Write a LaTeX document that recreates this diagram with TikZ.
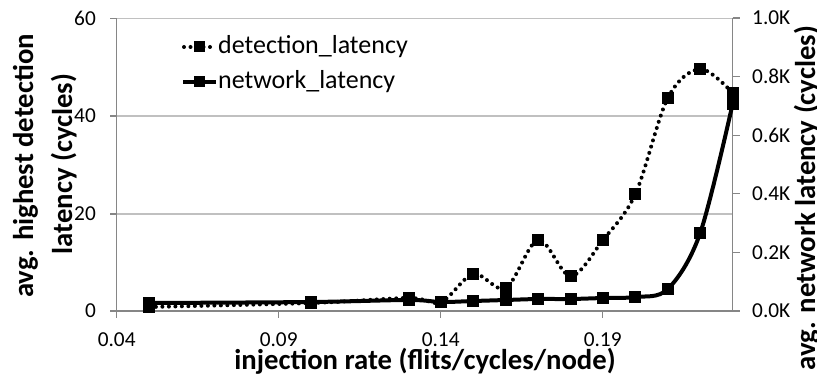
\documentclass[tikz,border=0pt]{standalone}
\usepackage{fontspec}
\setmainfont{Carlito}
\definecolor{gridgray}{HTML}{C0C0C0}
\definecolor{axisgray}{HTML}{868686}
\begin{document}
\begin{tikzpicture}[x=1pt,y=-1pt,
  gridline/.style={draw=gridgray, line width=1.2pt},
  axisline/.style={draw=axisgray, line width=1.2pt},
  detline/.style={line width=4pt, dash pattern=on 0pt off 6.5pt, line cap=round},
  netline/.style={line width=4pt},
  ticklab/.style={font=\fontsize{21.3}{23}\selectfont, inner sep=0pt},
  leglab/.style={font=\fontsize{26}{28}\selectfont, inner sep=0pt, anchor=west},
  axtitle/.style={font=\bfseries\fontsize{28.7}{34}\selectfont, inner sep=0pt, anchor=base},
]
\useasboundingbox (0,0) rectangle (817,379);

% horizontal gridlines (20, 40, 60)
\foreach \yy in {214,116,18.5}
  \draw[gridline] (110,\yy) -- (732.6,\yy);

% axes
\draw[axisline] (116.7,18.5) -- (116.7,311);
\draw[axisline] (110,311) -- (732.6,311);
\draw[axisline] (732.6,18.5) -- (732.6,311);
% left ticks
\foreach \yy in {311,214,116,18.5}
  \draw[axisline] (110,\yy) -- (116.7,\yy);
% right ticks
\foreach \yy in {311,252.4,193.8,135.2,76.6,18}
  \draw[axisline] (732.6,\yy) -- (740,\yy);
% bottom ticks
\foreach \xx in {116.7,278.7,440.7,602.7}
  \draw[axisline] (\xx,311) -- (\xx,318);

% left tick labels
\node[ticklab, anchor=east] (l0)  at (96,311)  {0};
\node[ticklab, anchor=east] (l20) at (96,214)  {20};
\node[ticklab, anchor=east] (l40) at (96,116)  {40};
\node[ticklab, anchor=east] (l60) at (96,18.5) {60};

% right tick labels
\node[ticklab, anchor=west] (r0) at (752,311)   {0.0K};
\node[ticklab, anchor=west] (r2) at (752,252.4) {0.2K};
\node[ticklab, anchor=west] (r4) at (752,193.8) {0.4K};
\node[ticklab, anchor=west] (r6) at (752,135.2) {0.6K};
\node[ticklab, anchor=west] (r8) at (752,76.6)  {0.8K};
\node[ticklab, anchor=west] (r10) at (752,18)   {1.0K};

% bottom tick labels
\node[ticklab] (b04) at (116.7,339.5) {0.04};
\node[ticklab] (b09) at (278.7,339.5) {0.09};
\node[ticklab] (b14) at (440.7,339.5) {0.14};
\node[ticklab] (b19) at (602.7,339.5) {0.19};

% axis titles
\node[axtitle] (xt) at (425,370) {injection rate (flits/cycles/node)};
\node[axtitle, rotate=90] (ylt1) at (33,166) {avg. highest detection};
\node[axtitle, rotate=90] (ylt2) at (72,164) {latency (cycles)};
\node[axtitle, rotate=90] (yrt) at (815,198) {avg. network latency (cycles)};

% detection latency series
\draw[detline] plot[smooth, tension=0.55] coordinates {
  (149.4,307) (311.4,303) (408.6,298) (441,302) (473.4,274) (505.8,288)
  (538.2,240) (570.6,276) (603,240) (635.4,194) (667.8,98) (700.2,69) (732.6,93)};
% network latency series
\draw[netline] plot[smooth, tension=0.55] coordinates {
  (149.4,303) (311.4,302) (408.6,300) (441,302) (473.4,301) (505.8,300)
  (538.2,299) (570.6,299) (603,298) (635.4,297) (667.8,289) (700.2,233) (732.6,104)};

% markers
\foreach \xx/\yy in {149.4/307,311.4/303,408.6/298,441/302,473.4/274,505.8/288,
  538.2/240,570.6/276,603/240,635.4/194,667.8/98,700.2/69,732.6/93}
  \fill (\xx-6,\yy-6) rectangle ++(12,12);
\foreach \xx/\yy in {149.4/303,311.4/302,408.6/300,441/302,473.4/301,505.8/300,
  538.2/299,570.6/299,603/298,635.4/297,667.8/289,700.2/233,732.6/104}
  \fill (\xx-6,\yy-6) rectangle ++(12,12);

% legend
\coordinate (d1) at (184,47);
\coordinate (d2) at (214,47);
\draw[detline] (d1) -- (d2);
\fill (199-5.5,47-5.5) rectangle ++(11,11);
\node[leglab] (ld) at (218,47) {detection\_latency};
\coordinate (n1) at (183,82);
\coordinate (n2) at (216,82);
\draw[netline] (n1) -- (n2);
\fill (199-5.5,82-5.5) rectangle ++(11,11);
\node[leglab] (ln) at (218,82) {network\_latency};
\end{tikzpicture}
\end{document}
